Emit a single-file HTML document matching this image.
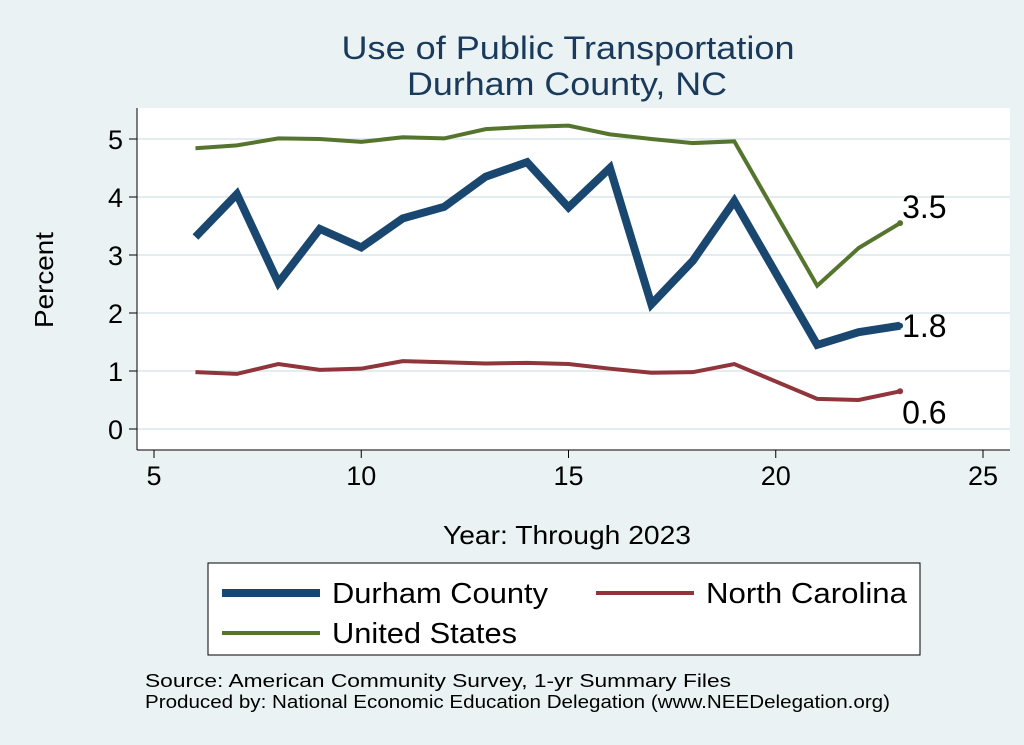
<!DOCTYPE html>
<html><head><meta charset="utf-8"><style>
body{margin:0;background:#eaf2f3;}
svg{display:block;font-family:"Liberation Sans",Arial,sans-serif;}
</style></head><body>
<svg id="c" width="1024" height="745">
<rect x="0" y="0" width="1024" height="745" fill="#eaf2f3"/>
<rect x="137" y="108" width="873" height="342" fill="#ffffff"/>
<text x="568" y="59" font-size="32" fill="#1a3a5c" text-anchor="middle" textLength="453" lengthAdjust="spacingAndGlyphs">Use of Public Transportation</text>
<text x="567" y="95" font-size="32" fill="#1a3a5c" text-anchor="middle" textLength="320" lengthAdjust="spacingAndGlyphs">Durham County, NC</text>
<text x="53" y="280" font-size="26" fill="#000" text-anchor="middle" textLength="96" lengthAdjust="spacingAndGlyphs" transform="rotate(-90 53 280)">Percent</text>
<text x="567" y="544" font-size="26" fill="#000" text-anchor="middle" textLength="248" lengthAdjust="spacingAndGlyphs">Year: Through 2023</text>
<g id="grid"></g><g id="axes"></g><g id="series"></g>
<rect x="208" y="563" width="712" height="92" fill="#fff" stroke="#000" stroke-width="1"/>
<g><line x1="222" y1="593" x2="320" y2="593" stroke="#1a476f" stroke-width="8"/><text x="332" y="603" font-size="29" textLength="216" lengthAdjust="spacingAndGlyphs">Durham County</text></g>
<g><line x1="596" y1="593" x2="694" y2="593" stroke="#90353b" stroke-width="4"/><text x="706" y="603" font-size="29" textLength="201" lengthAdjust="spacingAndGlyphs">North Carolina</text></g>
<g><line x1="222" y1="633" x2="320" y2="633" stroke="#55752f" stroke-width="4"/><text x="332" y="643" font-size="29" textLength="185" lengthAdjust="spacingAndGlyphs">United States</text></g>
<text x="145" y="687" font-size="18" textLength="586" lengthAdjust="spacingAndGlyphs">Source: American Community Survey, 1-yr Summary Files</text>
<text x="145" y="708" font-size="18" textLength="745" lengthAdjust="spacingAndGlyphs">Produced by: National Economic Education Delegation (www.NEEDelegation.org)</text>
</svg>
<script>
const years=[6,7,8,9,10,11,12,13,14,15,16,17,18,19,21,22,23];
const durham=[3.31,4.05,2.52,3.45,3.13,3.63,3.83,4.35,4.6,3.82,4.5,2.15,2.9,3.93,1.45,1.67,1.78];
const nc=[0.98,0.95,1.12,1.02,1.04,1.17,1.15,1.13,1.14,1.12,1.04,0.97,0.98,1.12,0.52,0.5,0.65];
const us=[4.84,4.89,5.01,5.0,4.95,5.03,5.01,5.17,5.21,5.23,5.08,5.0,4.93,4.96,2.47,3.12,3.55];
const xTicks=[5,10,15,20,25];
const yTicks=[0,1,2,3,4,5];
const labels=["1.8","0.6","3.5"];
const NS="http://www.w3.org/2000/svg";
const X=v=>154+(v-5)*41.45, Y=v=>429-v*58;
function mk(t,a,p){const e=document.createElementNS(NS,t);for(const k in a)e.setAttribute(k,a[k]);p.appendChild(e);return e;}
const g=document.getElementById('grid'),ax=document.getElementById('axes'),s=document.getElementById('series');
mk('line',{x1:137,y1:108,x2:137,y2:450,stroke:'#000'},ax);
mk('line',{x1:137,y1:450,x2:1010,y2:450,stroke:'#000'},ax);
yTicks.forEach(v=>{
 const l=mk('line',{x1:137,x2:1010,y1:Y(v),y2:Y(v),stroke:'#e4ecef','stroke-width':2},g);
 
 mk('line',{x1:129,x2:137,y1:Y(v),y2:Y(v),stroke:'#000'},ax);
 const t=mk('text',{x:123,y:Y(v)+10,'font-size':27,'text-anchor':'end'},ax);t.textContent=v;
 
});
xTicks.forEach(v=>{
 mk('line',{x1:X(v),x2:X(v),y1:450,y2:458,stroke:'#000'},ax);
 const t=mk('text',{x:X(v),y:485,'font-size':27,'text-anchor':'middle'},ax);t.textContent=v;
 
});
function line(d,c,w,n){const p=mk('polyline',{points:years.map((y,i)=>X(y)+','+Y(d[i])).join(' '),fill:'none',stroke:c,'stroke-width':w,'stroke-linejoin':'miter'},s);
 
 const L=years.length-1; mk('circle',{cx:X(years[L]),cy:Y(d[L]),r:3,fill:c},s);}
line(nc,'#90353b',4,'nc-line');
line(us,'#55752f',4,'us-line');
line(durham,'#1a476f',8,'durham-line');
const last=years.length-1;
[[durham,labels[0]],[nc,labels[1]],[us,labels[2]]].forEach(([d,t],i)=>{
 const yo=[11,32,-5][i];
 const e=mk('text',{x:X(years[last])+2,y:Y(d[last])+yo,'font-size':32},s);
 e.textContent=t;
 
});
</script>
</body></html>
